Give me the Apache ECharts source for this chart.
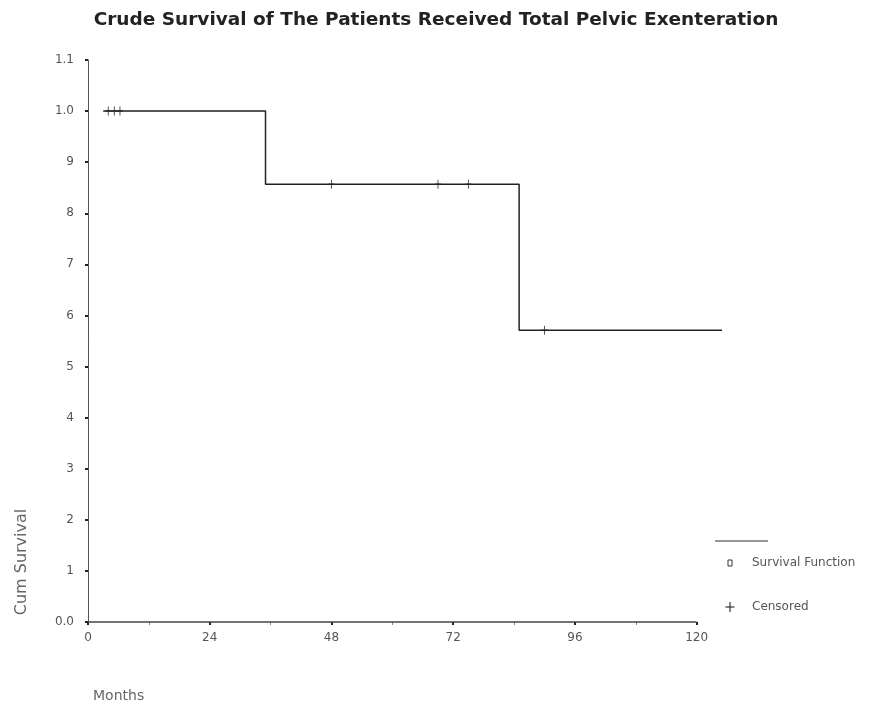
<!DOCTYPE html>
<html>
<head>
<meta charset="utf-8">
<script src="https://cdn.jsdelivr.net/npm/echarts@6/dist/echarts.min.js"></script>
<style>
  html, body { margin: 0; padding: 0; background: #fff; }
  #chart { width: 879px; height: 711px; }
</style>
</head>
<body>
<div id="chart"></div>
<script>
// Kaplan-Meier estimate: follow-up starts at 3 months, deaths at 35 and 85 months
const startTime = 3;
const endTime = 125;
const eventTimes = [35, 85];
const survivalLevels = [1.0, 0.857, 0.571];   // level before first event, then after each event
const censoredTimes = [4, 5.2, 6.3, 48, 69, 75, 90];
const xTicks = [0, 24, 48, 72, 96, 120];
const xMinorTicks = [12, 36, 60, 84, 108];
const yTickLabels = ['0.0', '1', '2', '3', '4', '5', '6', '7', '8', '9', '1.0', '1.1'];

// survival level in force at time t
function levelAt(t) {
  let s = survivalLevels[0];
  eventTimes.forEach((et, i) => { if (t >= et) s = survivalLevels[i + 1]; });
  return s;
}

// step curve points
const stepPoints = [[startTime, survivalLevels[0]]];
eventTimes.forEach((et, i) => {
  stepPoints.push([et, survivalLevels[i]]);
  stepPoints.push([et, survivalLevels[i + 1]]);
});
stepPoints.push([endTime, survivalLevels[survivalLevels.length - 1]]);

const censoredPoints = censoredTimes.map(t => [t, levelAt(t)]);

// horizontal axis line, drawn only up to the last labelled tick
const baseline = [[0, 0], [xTicks[xTicks.length - 1], 0]];

const plusPath = 'path://M4.2,0H5.8V4.2H10V5.8H5.8V10H4.2V5.8H0V4.2H4.2Z';
const textColor = '#555';
const axisColor = '#555';
const labelFont = 'DejaVu Sans, sans-serif';

const chart = echarts.init(document.getElementById('chart'));
chart.setOption({
  animation: false,
  title: {
    text: 'Crude Survival of The Patients Received Total Pelvic Exenteration',
    left: 431, top: 6, textAlign: 'center',
    textStyle: { fontFamily: labelFont, fontSize: 18.5, fontWeight: 'bold', color: '#222' }
  },
  // the time axis runs a little past 120 so the last step reaches 125 months
  grid: { left: 88, right: 157, top: 60, bottom: 89 },
  xAxis: [
    {
      type: 'value', min: 0, max: endTime,
      axisLine: { show: false },
      axisTick: { show: true, customValues: xTicks, length: 3, lineStyle: { color: '#222', width: 2 } },
      splitLine: { show: false },
      axisLabel: {
        customValues: xTicks, margin: 10, color: textColor, fontSize: 12, fontFamily: labelFont
      }
    },
    {
      type: 'value', min: 0, max: endTime, position: 'bottom',
      axisLine: { show: false },
      axisTick: { show: true, customValues: xMinorTicks, length: 3, lineStyle: { color: '#888', width: 1 } },
      axisLabel: { show: false },
      splitLine: { show: false }
    }
  ],
  yAxis: {
    type: 'value', min: 0, max: 1.1, interval: 0.1,
    axisLine: { show: true, lineStyle: { color: axisColor, width: 1 } },
    axisTick: { show: true, length: 3, lineStyle: { color: '#222', width: 2 } },
    splitLine: { show: false },
    axisLabel: {
      margin: 14, color: textColor, fontSize: 12, fontFamily: labelFont,
      formatter: v => yTickLabels[Math.round(v * 10)] || ''
    }
  },
  series: [
    {
      name: 'axis', type: 'line', data: baseline, silent: true,
      showSymbol: false, clip: false, z: 1,
      lineStyle: { color: '#444', width: 1.5 }
    },
    {
      name: 'Survival Function', type: 'line', data: stepPoints,
      showSymbol: false, clip: false,
      lineStyle: { color: '#222', width: 1.5 }
    },
    {
      name: 'Censored', type: 'scatter', data: censoredPoints,
      symbol: plusPath, symbolSize: [6, 9], clip: false,
      itemStyle: { color: '#222' }
    }
  ],
  graphic: [
    { type: 'text', x: 93, y: 689,
      style: { text: 'Months', fill: '#666', fontSize: 14, fontFamily: labelFont } },
    { type: 'text', x: 22, y: 562, rotation: Math.PI / 2,
      style: { text: 'Cum Survival', fill: '#666', fontSize: 16, fontFamily: labelFont,
               align: 'center', verticalAlign: 'middle' } },
    // legend
    { type: 'line', shape: { x1: 715, y1: 541, x2: 768, y2: 541 }, style: { stroke: '#333', lineWidth: 1 } },
    { type: 'rect', shape: { x: 728, y: 560, width: 4, height: 6 }, style: { fill: '#fff', stroke: '#333', lineWidth: 1 } },
    { type: 'text', x: 752, y: 563,
      style: { text: 'Survival Function', fill: '#555', fontSize: 12, fontFamily: labelFont, verticalAlign: 'middle' } },
    { type: 'line', shape: { x1: 730, y1: 602, x2: 730, y2: 612 }, style: { stroke: '#333', lineWidth: 1.2 } },
    { type: 'line', shape: { x1: 725.5, y1: 607, x2: 734.5, y2: 607 }, style: { stroke: '#333', lineWidth: 1.2 } },
    { type: 'text', x: 752, y: 607,
      style: { text: 'Censored', fill: '#555', fontSize: 12, fontFamily: labelFont, verticalAlign: 'middle' } }
  ]
});
</script>
</body>
</html>
